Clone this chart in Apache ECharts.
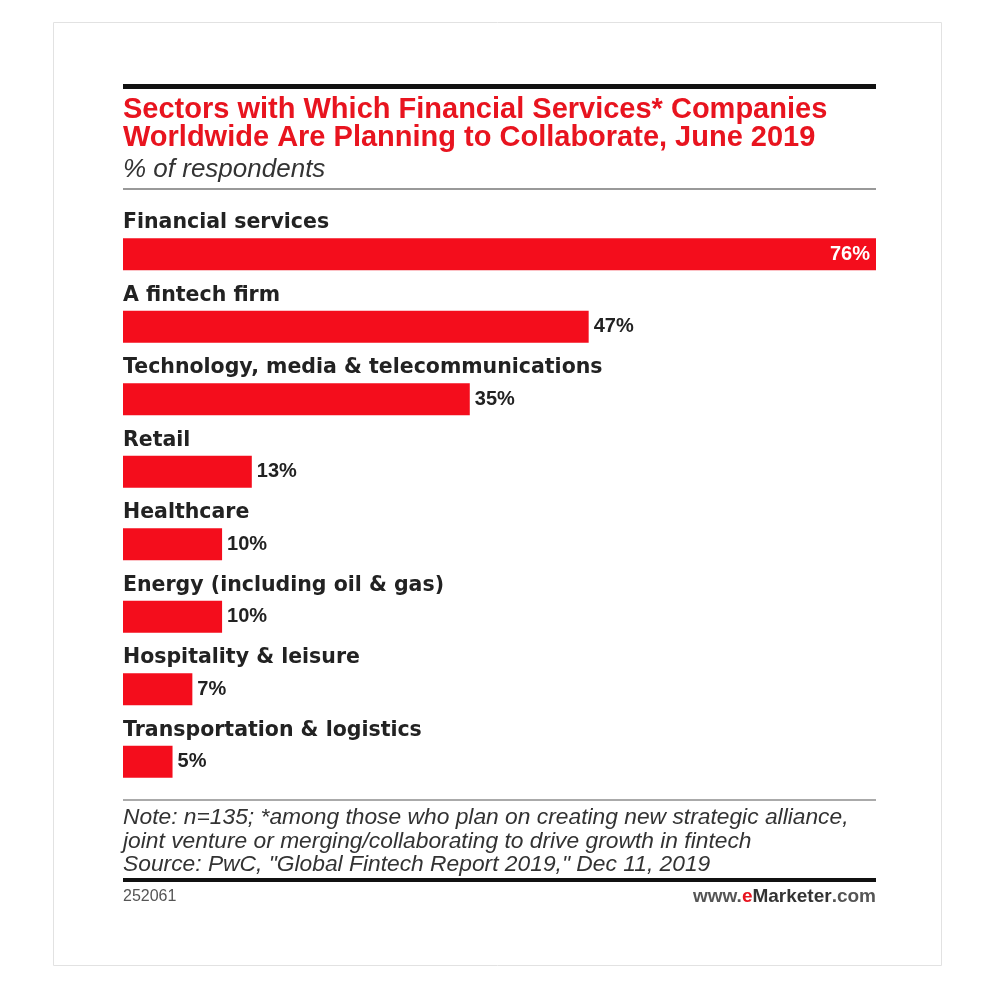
<!DOCTYPE html>
<html>
<head>
<meta charset="utf-8">
<script src="https://cdn.jsdelivr.net/npm/echarts@6/dist/echarts.min.js"></script>
<style>
html,body{margin:0;padding:0;background:#fff;}
#c{width:1000px;height:1005px;}
</style>
</head>
<body>
<div id="c"></div>
<script>
var categories = [
  "Financial services",
  "A fintech firm",
  "Technology, media & telecommunications",
  "Retail",
  "Healthcare",
  "Energy (including oil & gas)",
  "Hospitality & leisure",
  "Transportation & logistics"
];
var values = [76, 47, 35, 13, 10, 10, 7, 5];

var titleText = "Sectors with Which Financial Services* Companies\nWorldwide Are Planning to Collaborate, June 2019";
var subtitleText = "% of respondents";
var noteText = "Note: n=135; *among those who plan on creating new strategic alliance,\njoint venture or merging/collaborating to drive growth in fintech\nSource: PwC, \"Global Fintech Report 2019,\" Dec 11, 2019";
var chartId = "252061";

var condensed = '"Liberation Sans Narrow", "Liberation Sans", Arial, sans-serif';
var wide = '"DejaVu Sans", Verdana, sans-serif';

var chart = echarts.init(document.getElementById('c'), null, {renderer: 'canvas'});

var seriesData = values.map(function (v, i) {
  var item = {value: v};
  if (i === 0) {
    item.label = {position: 'insideRight', color: '#ffffff', distance: 6};
  }
  return item;
});

chart.setOption({
  backgroundColor: '#ffffff',
  animation: false,
  title: [
    {
      text: titleText,
      left: 123, top: 96, padding: 0,
      textStyle: {color: '#e8141f', fontFamily: condensed, fontWeight: 'bold', fontSize: 29, lineHeight: 28}
    },
    {
      text: subtitleText,
      left: 123, top: 157, padding: 0,
      textStyle: {color: '#333333', fontFamily: condensed, fontStyle: 'italic', fontWeight: 'normal', fontSize: 26}
    },
    {
      text: noteText,
      left: 123, top: 806, padding: 0,
      textStyle: {color: '#333333', fontFamily: condensed, fontStyle: 'italic', fontWeight: 'normal', fontSize: 22.8, lineHeight: 23.5}
    },
    {
      text: chartId,
      left: 123, top: 889, padding: 0,
      textStyle: {color: '#555555', fontFamily: condensed, fontWeight: 'normal', fontSize: 16}
    },
    {
      text: '{a|www.}{b|e}{c|Marketer}{a|.com}',
      right: 124, top: 887, padding: 0,
      textStyle: {
        rich: {
          a: {color: '#555555', fontFamily: '"Liberation Sans", Arial, sans-serif', fontSize: 19},
          b: {color: '#e8141f', fontFamily: '"Liberation Sans", Arial, sans-serif', fontSize: 19, fontWeight: 'bold'},
          c: {color: '#333333', fontFamily: '"Liberation Sans", Arial, sans-serif', fontSize: 19, fontWeight: 'bold'}
        }
      }
    }
  ],
  graphic: [
    {type: 'rect', shape: {x: 53.5, y: 22.5, width: 888, height: 943}, style: {fill: 'none', stroke: '#e2e2e2', lineWidth: 1}, silent: true},
    {type: 'rect', shape: {x: 123, y: 84, width: 753, height: 5}, style: {fill: '#111111'}, silent: true},
    {type: 'rect', shape: {x: 123, y: 188, width: 753, height: 2}, style: {fill: '#999999'}, silent: true},
    {type: 'rect', shape: {x: 123, y: 799, width: 753, height: 2}, style: {fill: '#aaaaaa'}, silent: true},
    {type: 'rect', shape: {x: 123, y: 878, width: 753, height: 4}, style: {fill: '#111111'}, silent: true}
  ],
  grid: {left: 123, right: 124, top: 218, height: 580, containLabel: false},
  xAxis: {
    type: 'value', min: 0, max: 76,
    show: false
  },
  yAxis: {
    type: 'category', data: categories, inverse: true,
    axisLine: {show: false}, axisTick: {show: false}, splitLine: {show: false},
    axisLabel: {
      inside: true, margin: 0, align: 'left', verticalAlign: 'bottom',
      padding: [0, 0, 21, 0],
      color: '#222222', fontFamily: wide, fontWeight: 'bold', fontSize: 20.5
    },
    z: 5
  },
  series: [{
    type: 'bar',
    data: seriesData,
    barWidth: 32,
    itemStyle: {color: '#f40d1c'},
    label: {
      show: true, position: 'right', distance: 5,
      formatter: '{c}%',
      color: '#222222', fontFamily: condensed, fontWeight: 'bold', fontSize: 20
    }
  }]
});
</script>
</body>
</html>
